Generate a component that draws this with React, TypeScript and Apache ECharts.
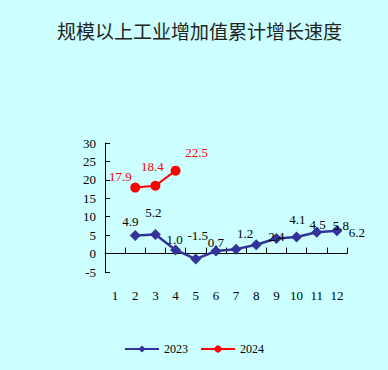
import React, { useEffect, useRef } from "react";
import * as echarts from "echarts";

const months = ["1", "2", "3", "4", "5", "6", "7", "8", "9", "10", "11", "12"];
const values2023: (number | null)[] = [null, 4.9, 5.2, 1.0, -1.5, 0.7, 1.2, 2.4, 4.1, 4.5, 5.8, 6.2];
const values2024: (number | null)[] = [null, 17.9, 18.4, 22.5, null, null, null, null, null, null, null, null];
const seriesNames = ["2023", "2024"];
const titleText = "规模以上工业增加值累计增长速度";

// label offsets (styling only) relative to each point, pixels
const labelShift2023: number[][] = [
  [0, 0], [-5, -14], [-2, -22], [-1, -10], [2, -24], [0, -8],
  [9, -16], [20, -8], [21, -19], [21, -12], [24, -7], [20, 2],
];
const labelShift2024: number[][] = [
  [0, 0], [-15, -11], [-3, -19], [21, -18],
  [0, 0], [0, 0], [0, 0], [0, 0], [0, 0], [0, 0], [0, 0], [0, 0],
];

const NUM_FONT = "'Liberation Serif', serif";

function buildData(vals: (number | null)[], shifts: number[][], color: string) {
  return vals.map((v, i) =>
    v === null
      ? null
      : {
          value: v,
          label: {
            show: true,
            position: "inside",
            offset: shifts[i],
            color,
            fontFamily: NUM_FONT,
            fontSize: 13,
            formatter: (p: any) => Number(p.value).toFixed(1),
          },
        }
  );
}

export default function App() {
  const ref = useRef<HTMLDivElement>(null);
  useEffect(() => {
    if (!ref.current) return;
    const chart = echarts.init(ref.current, null, { renderer: "svg" });
    chart.setOption({
      animation: false,
      backgroundColor: "#CCFFFF",
      title: {
        text: titleText,
        left: 52,
        top: 16,
        textStyle: {
          fontFamily: "'Noto Sans CJK SC', sans-serif",
          fontSize: 19,
          fontWeight: "normal",
          color: "#222222",
        },
      },
      legend: {
        bottom: 10,
        left: "center",
        itemWidth: 34,
        itemHeight: 9,
        itemGap: 12,
        textStyle: { fontFamily: NUM_FONT, fontSize: 12, color: "#000" },
        data: seriesNames,
      },
      grid: { left: 105, right: 41, top: 143, bottom: 98 },
      xAxis: {
        type: "category",
        data: months,
        boundaryGap: true,
        axisLine: { show: true, onZero: true, lineStyle: { color: "#000", width: 1 } },
        axisTick: { show: true, inside: true, length: 6, lineStyle: { color: "#000", width: 1 } },
        axisLabel: { show: true, interval: 0, color: "#000", fontFamily: NUM_FONT, fontSize: 13, margin: 17 },
        splitLine: { show: false },
      },
      yAxis: {
        type: "value",
        min: -5,
        max: 30,
        interval: 5,
        axisLine: { show: true, lineStyle: { color: "#000", width: 1 } },
        axisTick: { show: true, inside: true, length: 5, lineStyle: { color: "#000" } },
        axisLabel: { color: "#000", fontFamily: NUM_FONT, fontSize: 13, margin: 9 },
        splitLine: { show: false },
      },
      series: [
        {
          name: seriesNames[0],
          type: "line",
          data: buildData(values2023, labelShift2023, "#000"),
          symbol: "diamond",
          symbolSize: 11,
          connectNulls: false,
          itemStyle: { color: "#333399" },
          lineStyle: { color: "#333399", width: 2.5 },
        },
        {
          name: seriesNames[1],
          type: "line",
          data: buildData(values2024, labelShift2024, "#FF0000"),
          symbol: "circle",
          symbolSize: 10,
          itemStyle: { color: "#FF0000" },
          lineStyle: { color: "#FF0000", width: 2 },
        },
      ],
    });
    return () => chart.dispose();
  }, []);
  return (
    <div
      ref={ref}
      style={{ position: "fixed", left: 0, top: 0, width: 388, height: 370 }}
    />
  );
}
